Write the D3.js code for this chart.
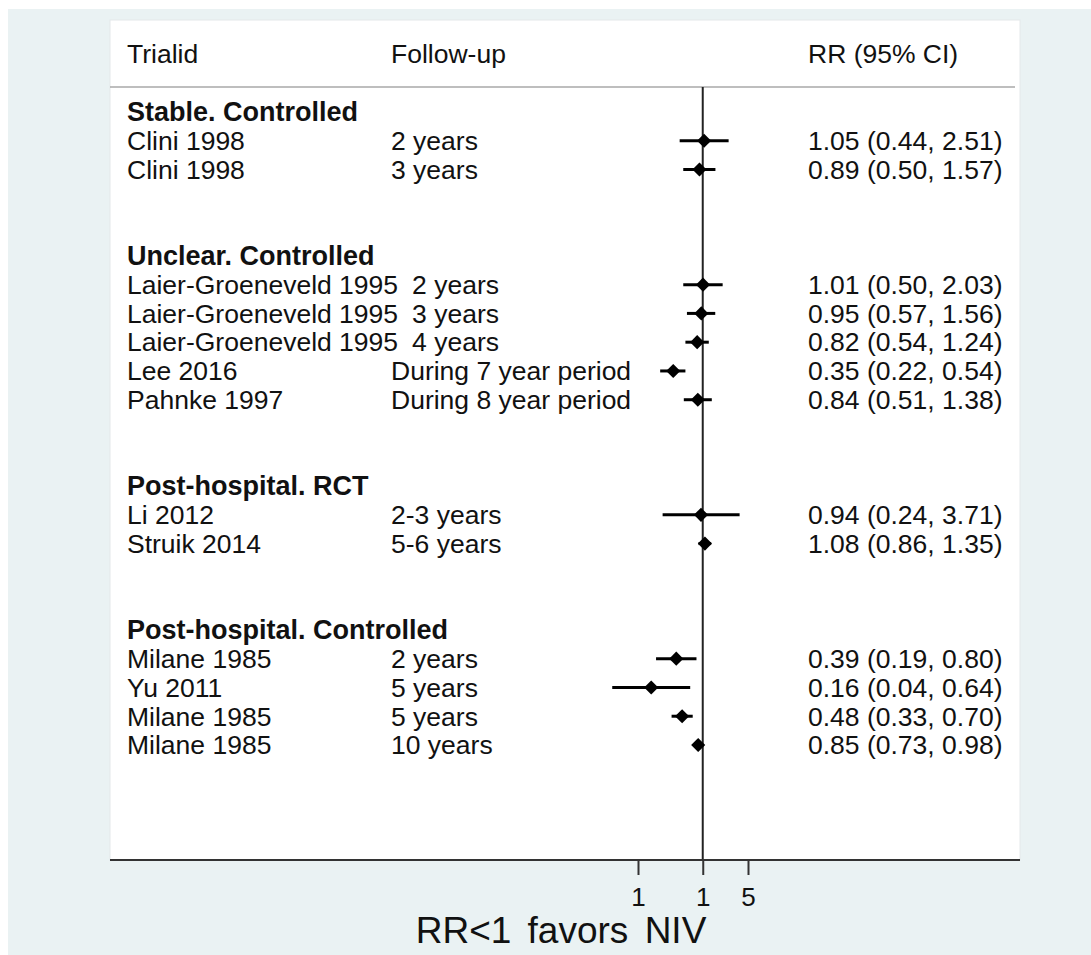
<!DOCTYPE html>
<html>
<head>
<meta charset="utf-8">
<script src="https://cdn.jsdelivr.net/npm/d3@7"></script>
<style>
  body { margin: 0; background: #fff; }
  text { font-family: "Liberation Sans", Arial, sans-serif; fill: #111; }
</style>
</head>
<body>
<div id="chart"></div>
<script>
// group titles and the studies in each group
const groupTitles = ["Stable. Controlled", "Unclear. Controlled", "Post-hospital. RCT", "Post-hospital. Controlled"];
const studyGroup = [0, 0, 1, 1, 1, 1, 1, 2, 2, 3, 3, 3, 3];
const studyNames = ["Clini 1998", "Clini 1998", "Laier-Groeneveld 1995", "Laier-Groeneveld 1995",
  "Laier-Groeneveld 1995", "Lee 2016", "Pahnke 1997", "Li 2012", "Struik 2014",
  "Milane 1985", "Yu 2011", "Milane 1985", "Milane 1985"];
const followUp = ["2 years", "3 years", "2 years", "3 years", "4 years", "During 7 year period",
  "During 8 year period", "2-3 years", "5-6 years", "2 years", "5 years", "5 years", "10 years"];
const rr = [1.05, 0.89, 1.01, 0.95, 0.82, 0.35, 0.84, 0.94, 1.08, 0.39, 0.16, 0.48, 0.85];
const ciLow = [0.44, 0.50, 0.50, 0.57, 0.54, 0.22, 0.51, 0.24, 0.86, 0.19, 0.04, 0.33, 0.73];
const ciHigh = [2.51, 1.57, 2.03, 1.56, 1.24, 0.54, 1.38, 3.71, 1.35, 0.80, 0.64, 0.70, 0.98];
const tickValues = [0.1, 1, 5];
const tickLabels = ["1", "1", "5"];
const headers = ["Trialid", "Follow-up", "RR (95% CI)"];

const width = 1091, height = 955;
const fmt = d3.format(".2f");

// lay out rows: group title, its studies, then two empty rows
const rows = [];
groupTitles.forEach((g, gi) => {
  if (gi > 0) { rows.push(null); rows.push(null); }
  rows.push({ title: g });
  studyGroup.forEach((sg, i) => {
    if (sg === gi) rows.push({ study: i });
  });
});
rows.forEach((r, i) => { if (r) r.row = i; });

const svg = d3.select("#chart").append("svg")
  .attr("width", width)
  .attr("height", height);

// background and plot panel
svg.append("rect").attr("x", 8).attr("y", 9).attr("width", width - 8).attr("height", height - 9)
  .attr("fill", "#eaf2f3");
svg.append("rect").attr("x", 110).attr("y", 20).attr("width", 910).attr("height", 840)
  .attr("fill", "#fff").attr("stroke", "#e4e8ea").attr("stroke-width", 1);

const x = d3.scaleLog().domain([0.1, 5]).range([638, 748]);
const y = d3.scaleLinear().domain([0, rows.length - 1]).range([112, 745]);

const colName = 127, colFollow = 391, colCI = 808;
const fs = "26.5px";

// header
svg.selectAll(".hdr")
  .data(headers)
  .enter()
  .append("text")
  .attr("class", "hdr")
  .attr("x", (d, i) => [colName, colFollow, colCI][i])
  .attr("y", 54)
  .attr("dy", "0.35em")
  .style("font-size", fs)
  .text(d => d);

svg.append("line")
  .attr("x1", 110).attr("x2", 1015)
  .attr("y1", 87).attr("y2", 87)
  .attr("stroke", "#a8a8a8").attr("stroke-width", 1.5);

// null line at RR = 1
svg.append("line")
  .attr("x1", x(1)).attr("x2", x(1))
  .attr("y1", 87).attr("y2", 860)
  .attr("stroke", "#222").attr("stroke-width", 2);

const rowData = rows.filter(r => r);

// group titles
svg.selectAll(".grp")
  .data(rowData.filter(r => r.title))
  .enter()
  .append("text")
  .attr("class", "grp")
  .attr("x", colName)
  .attr("y", d => y(d.row))
  .attr("dy", "0.35em")
  .style("font-size", "27px")
  .style("font-weight", "bold")
  .text(d => d.title);

const studyRows = rowData.filter(r => r.study !== undefined);

const labels = svg.selectAll(".study")
  .data(studyRows)
  .enter()
  .append("g")
  .attr("class", "study")
  .attr("transform", d => `translate(0,${y(d.row)})`);

const names = labels.append("text")
  .attr("x", colName)
  .attr("dy", "0.35em")
  .style("font-size", fs)
  .text(d => studyNames[d.study]);

// follow-up text is pushed right when the trial name runs into its column
labels.append("text")
  .each(function (d, i) {
    const end = colName + names.nodes()[i].getComputedTextLength();
    d3.select(this).attr("x", end + 8 > colFollow ? end + 14 : colFollow);
  })
  .attr("dy", "0.35em")
  .style("font-size", fs)
  .text(d => followUp[d.study]);

labels.append("text")
  .attr("x", colCI)
  .attr("dy", "0.35em")
  .style("font-size", fs)
  .text(d => `${fmt(rr[d.study])} (${fmt(ciLow[d.study])}, ${fmt(ciHigh[d.study])})`);

// confidence intervals
labels.append("line")
  .attr("x1", d => x(ciLow[d.study]))
  .attr("x2", d => x(ciHigh[d.study]))
  .attr("stroke", "#000")
  .attr("stroke-width", 3);

// point estimates
labels.append("path")
  .attr("d", d3.symbol(d3.symbolSquare, 100))
  .attr("transform", d => `translate(${x(rr[d.study])},0) rotate(45)`)
  .attr("fill", "#000");

// x axis
svg.append("line")
  .attr("x1", 110).attr("x2", 1020)
  .attr("y1", 860).attr("y2", 860)
  .attr("stroke", "#333").attr("stroke-width", 2);

const axis = svg.append("g")
  .attr("transform", "translate(0,860)")
  .call(d3.axisBottom(x).tickValues(tickValues).tickFormat((d, i) => tickLabels[i]).tickSize(15).tickPadding(13));
axis.select(".domain").remove();
axis.selectAll(".tick line").attr("stroke", "#333").attr("stroke-width", 2);
axis.selectAll(".tick text").style("font-size", "26px").attr("fill", "#111")
  .style("font-family", "'Liberation Sans', Arial, sans-serif");

svg.append("text")
  .attr("x", 561)
  .attr("y", 943)
  .attr("text-anchor", "middle")
  .style("font-size", "37px")
  .style("word-spacing", "6px")
  .text("RR<1 favors NIV");
</script>
</body>
</html>
